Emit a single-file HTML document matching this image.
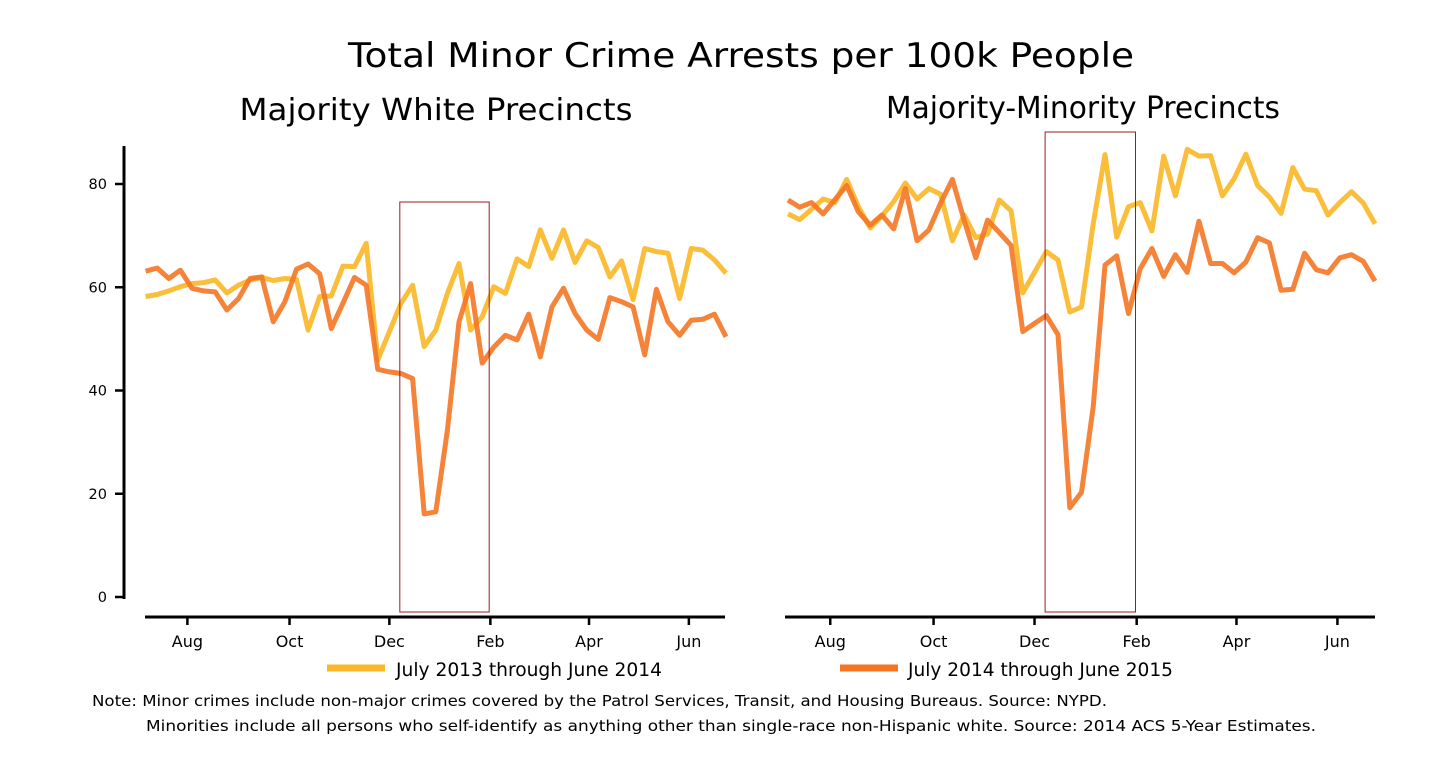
<!DOCTYPE html>
<html><head><meta charset="utf-8"><style>
html,body{margin:0;padding:0;background:#fff;}
svg{display:block;font-family:"DejaVu Sans","Liberation Sans",sans-serif;}
</style></head><body>
<svg id="chart" width="1452" height="759" viewBox="0 0 1452 759">
<text x="741" y="67" font-size="34" text-anchor="middle" textLength="786" lengthAdjust="spacingAndGlyphs">Total Minor Crime Arrests per 100k People</text>
<text x="436" y="120" font-size="30" text-anchor="middle" textLength="393" lengthAdjust="spacingAndGlyphs">Majority White Precincts</text>
<text x="1083" y="118" font-size="30" text-anchor="middle" textLength="394" lengthAdjust="spacingAndGlyphs">Majority-Minority Precincts</text>
<g id="left"></g>
<g id="right"></g>
<line x1="327" y1="668" x2="385" y2="668" stroke="#fbb82a" stroke-width="7"/>
<text x="396" y="676" font-size="19" textLength="266" lengthAdjust="spacingAndGlyphs">July 2013 through June 2014</text>
<line x1="840" y1="668" x2="898" y2="668" stroke="#f47524" stroke-width="7"/>
<text x="908" y="676" font-size="19" textLength="265" lengthAdjust="spacingAndGlyphs">July 2014 through June 2015</text>
<text x="92" y="706" font-size="15.5" textLength="1015" lengthAdjust="spacingAndGlyphs">Note: Minor crimes include non-major crimes covered by the Patrol Services, Transit, and Housing Bureaus. Source: NYPD.</text>
<text x="146" y="731" font-size="15.5" textLength="1170" lengthAdjust="spacingAndGlyphs">Minorities include all persons who self-identify as anything other than single-race non-Hispanic white. Source: 2014 ACS 5-Year Estimates.</text>
</svg>
<script>
const monthLabels = ["Aug","Oct","Dec","Feb","Apr","Jun"];
const yTicks = [0,20,40,60,80];
const whiteY2013 = [58.2,58.6,59.3,60.1,60.7,60.9,61.4,58.9,60.4,61.4,61.9,61.3,61.7,61.5,51.7,58.2,58.3,64.1,64,68.5,45.9,51.4,56.9,60.4,48.5,51.7,58.8,64.6,51.7,54.3,60.1,58.8,65.5,64,71.1,65.6,71.1,64.8,69,67.7,62,65.1,57.6,67.5,66.9,66.6,57.8,67.5,67.2,65.3,62.7];
const whiteY2014 = [63.1,63.7,61.7,63.3,59.8,59.3,59.1,55.6,57.8,61.7,62,53.3,57.2,63.5,64.5,62.6,52,56.9,61.9,60.4,44.1,43.6,43.3,42.3,16.1,16.5,32.3,53.3,60.7,45.3,48.4,50.7,49.8,54.8,46.5,56.2,59.8,54.9,51.7,49.9,58,57.2,56.2,46.9,59.6,53.3,50.7,53.6,53.8,54.8,50.4];
const minorityY2013 = [74.2,73.1,75.1,77.1,76.4,80.9,75.6,71.5,73.8,76.6,80.2,77.1,79.1,78,69,74,69.6,70.3,76.9,74.8,58.9,62.9,66.9,65.3,55.2,56.2,72.3,85.7,69.7,75.6,76.4,70.9,85.4,77.7,86.7,85.4,85.5,77.7,81,85.8,79.7,77.5,74.3,83.2,79,78.7,74,76.4,78.5,76.3,72.3];
const minorityY2014 = [76.9,75.5,76.4,74.2,77,79.7,74.6,72,74,71.3,79.1,69,71.1,76.3,80.9,73,65.7,73,70.6,68.1,51.4,53,54.5,50.8,17.3,20.3,36.8,64.3,66.1,54.9,63.6,67.5,62.1,66.3,62.9,72.8,64.6,64.6,62.8,64.9,69.6,68.6,59.4,59.6,66.6,63.4,62.8,65.7,66.3,65,61.2];
// month tick positions expressed in week index units
const monthWeekIndex = [3.6,12.4,21,29.7,38.2,46.8];
const highlightWeeks = [21.9,29.6];

const NS="http://www.w3.org/2000/svg";
function mk(tag,attrs,parent){const e=document.createElementNS(NS,tag);for(const k in attrs)e.setAttribute(k,attrs[k]);parent.appendChild(e);return e;}
const yScale = v => 597 - v*5.1625;

function panel(g, x0, x1, axisX0, axisX1, s13, s14, showY, boxTop, prefix){
  const n = s13.length;
  const xScale = i => x0 + (x1-x0)*i/(n-1);
  const ax = mk('line',{x1:axisX0,y1:617,x2:axisX1,y2:617,stroke:'#000','stroke-width':3},g);
  
  
  monthLabels.forEach((m,j)=>{
    const x = xScale(monthWeekIndex[j]);
    const t = mk('line',{x1:x,y1:617,x2:x,y2:625,stroke:'#000','stroke-width':2.5},g);
    
    
    const l = mk('text',{x:x,y:647,'font-size':16,'text-anchor':'middle'},g);
    l.textContent = m;
    
    
  });
  if(showY){
    const ay = mk('line',{x1:124,y1:146,x2:124,y2:599,stroke:'#000','stroke-width':3},g);
    
    
    yTicks.forEach(v=>{
      const y = yScale(v);
      const t = mk('line',{x1:115,y1:y,x2:124,y2:y,stroke:'#000','stroke-width':2.5},g);
      
      
      const l = mk('text',{x:107,y:y+5,'font-size':14.5,'text-anchor':'end'},g);
      l.textContent = v;
      
      
    });
  }
  const path = s => s.map((v,i)=>(i?'L':'M')+xScale(i).toFixed(1)+','+yScale(v).toFixed(1)).join('');
  const p1 = mk('path',{d:path(s13),fill:'none',stroke:'#fbb82a','stroke-width':5,'stroke-linejoin':'round',opacity:0.92},g);
  
  
  const p2 = mk('path',{d:path(s14),fill:'none',stroke:'#f47524','stroke-width':5,'stroke-linejoin':'round',opacity:0.9},g);
  
  
  const bx0 = xScale(highlightWeeks[0]), bx1 = xScale(highlightWeeks[1]);
  const box = mk('rect',{x:bx0,y:boxTop,width:bx1-bx0,height:612-boxTop,fill:'none',stroke:'#9b1c20','stroke-width':1},g);
  
  
}
panel(document.getElementById('left'),145.6,726,145,725,whiteY2013,whiteY2014,true,202,'left');
panel(document.getElementById('right'),788,1375,785,1375,minorityY2013,minorityY2014,false,132,'right');
</script>
</body></html>
